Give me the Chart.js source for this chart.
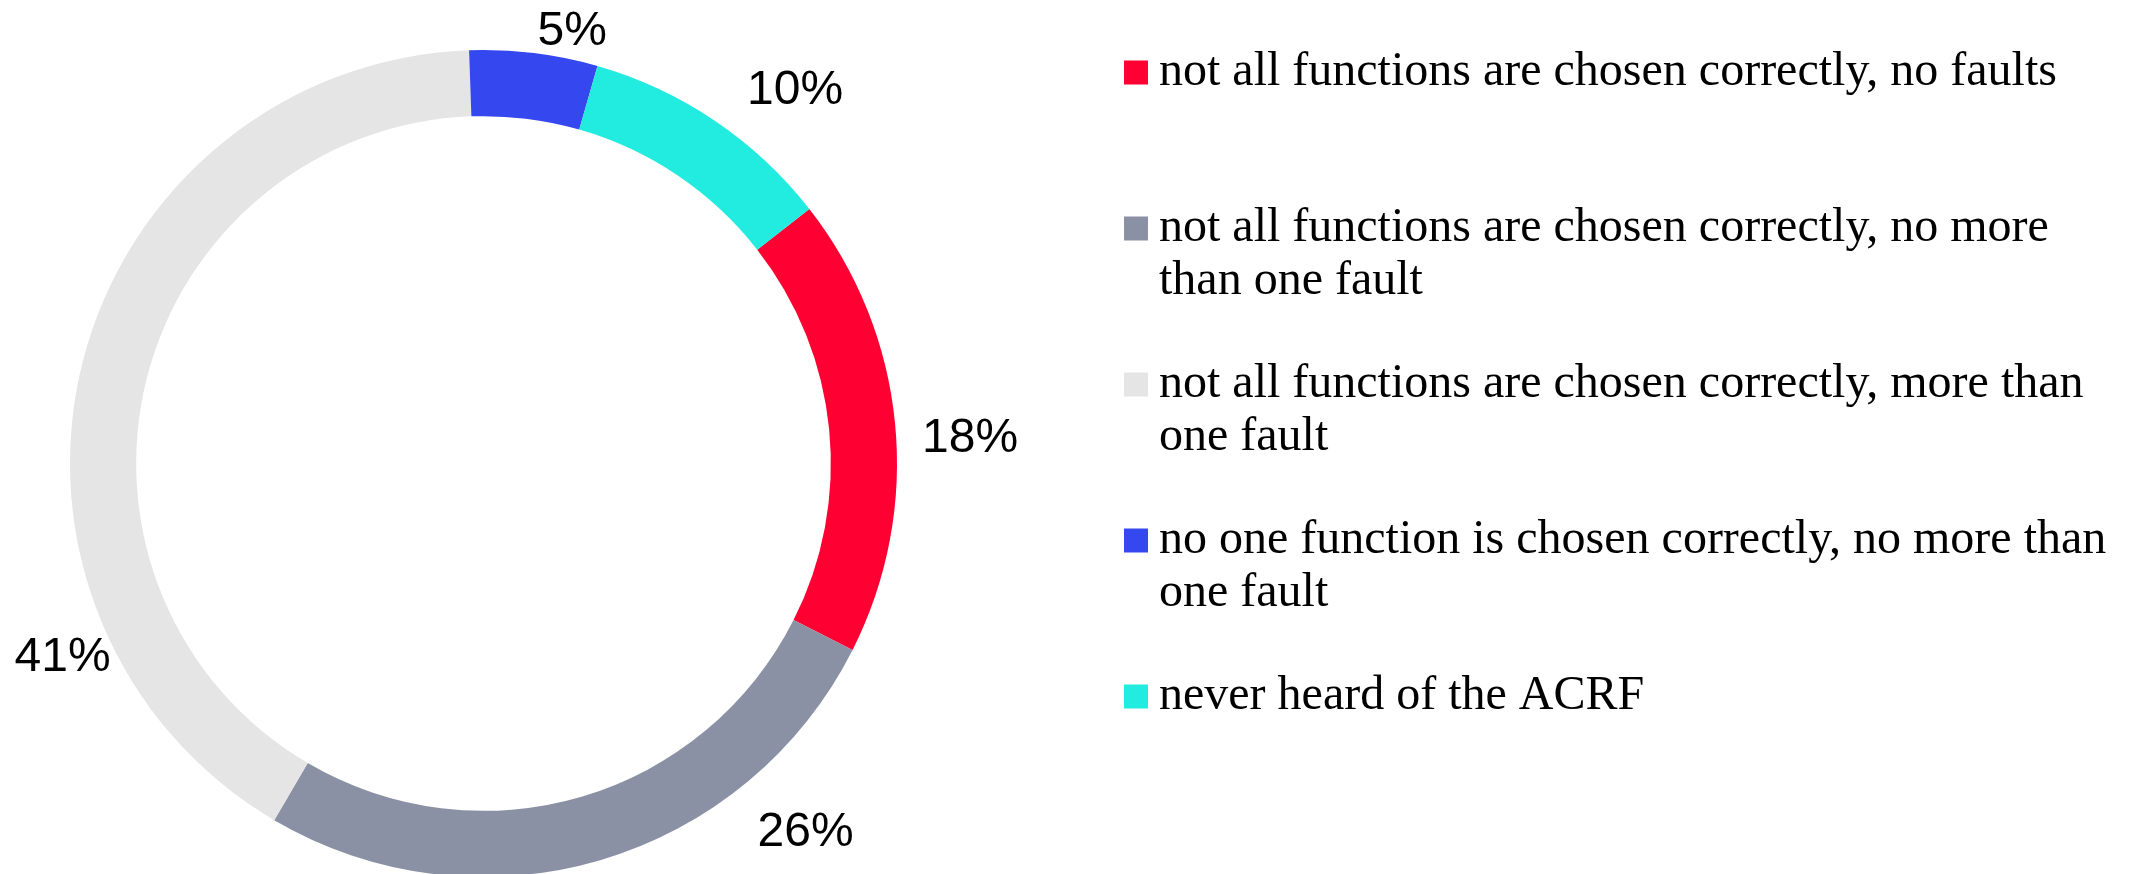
<!DOCTYPE html>
<html>
<head>
<meta charset="utf-8">
<script src="https://cdn.jsdelivr.net/npm/chart.js@4.4.1/dist/chart.umd.min.js"></script>
<style>
  html, body { margin: 0; padding: 0; background: #fff; overflow: hidden; }
  #wrap { width: 2136px; height: 874px; overflow: hidden; }
</style>
</head>
<body>
<div id="wrap"><canvas id="ringchart" width="2136" height="880"></canvas></div>
<script>
// answers, in legend order
const categories = [
    "not all functions are chosen correctly, no faults",
    "not all functions are chosen correctly, no more than one fault",
    "not all functions are chosen correctly, more than one fault",
    "no one function is chosen correctly, no more than one fault",
    "never heard of the ACRF"
];
const shares = [18, 26, 41, 5, 10];
const percentLabels = ["18%", "26%", "41%", "5%", "10%"];
const sliceColors = ["#ff0033", "#8b91a5", "#e5e5e5", "#3548f0", "#22ebdf"];

// where the percent labels sit, relative to each slice (degrees / x outer radius)
const labelAngleShift = [2.2, -25, -38.5, 4.5, 5.6];
const labelRadius = [1.179, 1.178, 1.117, 1.075, 1.182];

// legend layout
const legendX = 1124;
const boxSize = 24;
const textX = 1159;
const legendTop = 84.5;
const legendStep = 156;
const lineHeight = 53;
const legendWrap = 965;

function wrapText(ctx, text, maxWidth) {
    const words = text.split(" ");
    const lines = [];
    let cur = "";
    words.forEach(w => {
        const test = cur ? cur + " " + w : w;
        if (cur && ctx.measureText(test).width > maxWidth) {
            lines.push(cur);
            cur = w;
        } else {
            cur = test;
        }
    });
    if (cur) lines.push(cur);
    return lines;
}

const percentLabelPlugin = {
    id: "percentLabels",
    afterDatasetsDraw(chart) {
        const ctx = chart.ctx;
        const meta = chart.getDatasetMeta(0);
        ctx.save();
        ctx.font = "48px 'Liberation Sans', Arial, sans-serif";
        ctx.fillStyle = "#000";
        ctx.textAlign = "center";
        ctx.textBaseline = "alphabetic";
        meta.data.forEach((arc, i) => {
            const p = arc.getProps(["x", "y", "startAngle", "endAngle", "outerRadius"], true);
            const mid = (p.startAngle + p.endAngle) / 2 + labelAngleShift[i] * Math.PI / 180;
            const r = p.outerRadius * labelRadius[i];
            ctx.fillText(percentLabels[i], p.x + Math.cos(mid) * r, p.y + Math.sin(mid) * r + 17);
        });
        ctx.restore();
    }
};

const sideLegendPlugin = {
    id: "sideLegend",
    afterDraw(chart) {
        const ctx = chart.ctx;
        ctx.save();
        ctx.font = "48px 'Liberation Serif', 'Times New Roman', serif";
        ctx.textBaseline = "alphabetic";
        categories.forEach((name, i) => {
            const base = legendTop + i * legendStep;
            ctx.fillStyle = sliceColors[i];
            ctx.fillRect(legendX, base - boxSize, boxSize, boxSize);
            ctx.fillStyle = "#000";
            const lines = wrapText(ctx, name, legendWrap);
            lines.forEach((line, k) => {
                ctx.fillText(line, textX, base + k * lineHeight);
            });
        });
        ctx.restore();
    }
};

const canvas = document.getElementById("ringchart");
new Chart(canvas.getContext("2d"), {
    type: "doughnut",
    data: {
        labels: categories,
        datasets: [{
            data: shares,
            backgroundColor: sliceColors,
            borderWidth: 0,
            hoverOffset: 0
        }]
    },
    options: {
        responsive: false,
        animation: false,
        rotation: 52,
        cutout: "84%",
        layout: { padding: { left: 70, right: 1239, top: 50, bottom: 3 } },
        plugins: {
            legend: { display: false },
            tooltip: { enabled: false }
        }
    },
    plugins: [percentLabelPlugin, sideLegendPlugin]
});
</script>
</body>
</html>
